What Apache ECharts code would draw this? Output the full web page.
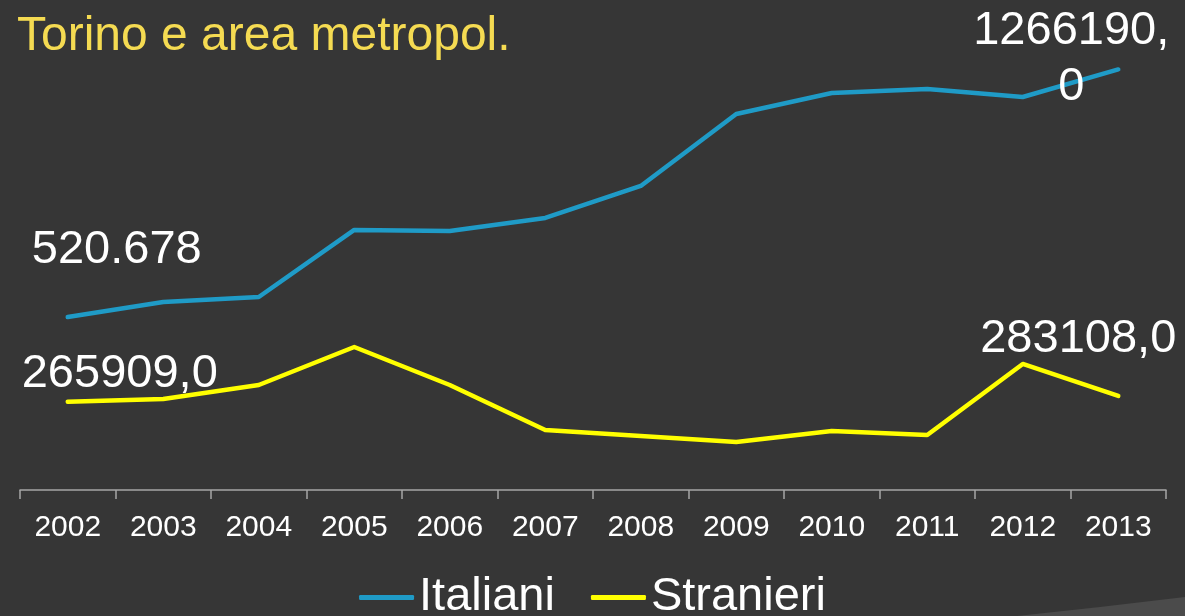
<!DOCTYPE html>
<html>
<head>
<meta charset="utf-8">
<script src="https://cdn.jsdelivr.net/npm/echarts@6/dist/echarts.min.js"></script>
<style>
html,body{margin:0;padding:0;background:#363636;}
#chart{width:1185px;height:616px;}
</style>
</head>
<body>
<div id="chart"></div>
<script>
const categories = ['2002','2003','2004','2005','2006','2007','2008','2009','2010','2011','2012','2013'];
const italiani = [520678, 566000, 581100, 782900, 779800, 819000, 915300, 1132100, 1195400, 1207400, 1183300, 1266190];
const stranieri = [265909, 274000, 316200, 430600, 316200, 180700, 162600, 144500, 177600, 165600, 379400, 283108];
const italianiLabels = ['520.678', '', '', '', '', '', '', '', '', '', '', '1266190,\n0'];
const stranieriLabels = ['265909,0', '', '', '', '', '', '', '', '', '', '', '283108,0'];
const titleText = 'Torino e area metropol.';

const FONT = '"Liberation Sans", Arial, sans-serif';
const labelOffsets = {
  italiani: {0: [49, -67], 11: [-47, -10]},
  stranieri: {0: [52, -28], 11: [-40, -57]}
};

function buildData(values, labels, offsets) {
  return values.map((v, i) => {
    if (!labels[i]) return v;
    return {
      value: v,
      label: {
        show: true,
        position: 'inside',
        offset: offsets[i],
        formatter: labels[i],
        color: '#ffffff',
        fontSize: 47,
        lineHeight: 56,
        fontFamily: FONT,
        align: 'center',
        verticalAlign: 'middle'
      }
    };
  });
}

const chart = echarts.init(document.getElementById('chart'), null, {renderer: 'canvas'});
chart.setOption({
  backgroundColor: '#363636',
  animation: false,
  title: {
    text: titleText,
    left: 17,
    top: 13,
    padding: 0,
    textStyle: {color: '#F5DB52', fontSize: 48, fontWeight: 'normal', fontFamily: FONT}
  },
  legend: {
    data: ['Italiani', 'Stranieri'],
    left: 'center',
    top: 574,
    padding: 0,
    icon: 'roundRect',
    itemWidth: 55,
    itemHeight: 5,
    itemGap: 36,
    textStyle: {color: '#ffffff', fontSize: 47, fontFamily: FONT}
  },
  grid: {left: 20, right: 19, top: 25, bottom: 126, containLabel: false},
  xAxis: {
    type: 'category',
    data: categories,
    boundaryGap: true,
    axisLine: {show: true, lineStyle: {color: '#a6a6a6', width: 1.5}},
    axisTick: {show: true, length: 9, alignWithLabel: false, lineStyle: {color: '#a6a6a6', width: 1.5}},
    axisLabel: {color: '#ffffff', fontSize: 30, fontFamily: FONT, margin: 23, interval: 0}
  },
  yAxis: {
    type: 'value',
    min: 0,
    max: 1400000,
    show: false,
    splitLine: {show: false}
  },
  graphic: [{
    type: 'polygon',
    z: -1,
    shape: {points: [[1017, 616], [1100, 607], [1185, 597], [1185, 616]]},
    style: {fill: '#4b4b4b'}
  }],
  series: [
    {
      name: 'Italiani',
      type: 'line',
      data: buildData(italiani, italianiLabels, labelOffsets.italiani),
      color: '#1F9BC7',
      symbol: 'circle',
      symbolSize: 1,
      showSymbol: true,
      lineStyle: {width: 4.5, color: '#1F9BC7', cap: 'round', join: 'round'},
      itemStyle: {color: '#1F9BC7'},
      label: {show: false},
      z: 3
    },
    {
      name: 'Stranieri',
      type: 'line',
      data: buildData(stranieri, stranieriLabels, labelOffsets.stranieri),
      color: '#FFFF00',
      symbol: 'circle',
      symbolSize: 1,
      showSymbol: true,
      lineStyle: {width: 4.5, color: '#FFFF00', cap: 'round', join: 'round'},
      itemStyle: {color: '#FFFF00'},
      label: {show: false},
      z: 3
    }
  ]
});
</script>
</body>
</html>
